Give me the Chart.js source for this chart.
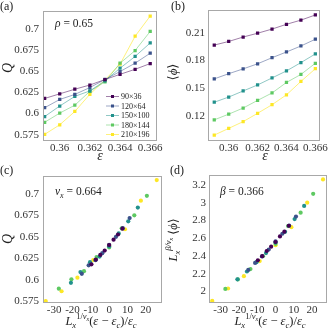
<!DOCTYPE html>
<html>
<head>
<meta charset="utf-8">
<script src="https://cdn.jsdelivr.net/npm/chart.js@4/dist/chart.umd.min.js"></script>
<style>
    html, body { margin: 0; padding: 0; background: #fff; }
    #figura { position: relative; width: 330px; height: 329px; }
    .painel { position: absolute; }
</style>
</head>
<body>
<div id="figura">
    <div class="painel" style="left:0;top:0"><canvas id="grafico_a" width="165" height="165"></canvas></div>
    <div class="painel" style="left:165px;top:0"><canvas id="grafico_b" width="165" height="165"></canvas></div>
    <div class="painel" style="left:0;top:165px"><canvas id="grafico_c" width="165" height="164"></canvas></div>
    <div class="painel" style="left:165px;top:165px"><canvas id="grafico_d" width="165" height="164"></canvas></div>
</div>
<script>
/* dados */
const eps = [0.359, 0.360, 0.361, 0.362, 0.363, 0.364, 0.365, 0.366];
const tamanhos = ['90×36', '120×64', '150×100', '180×144', '210×196'];

// (a) Q x eps
const q90  = [0.618, 0.6235, 0.629, 0.634, 0.6405, 0.6467, 0.6527, 0.6595];
const q120 = [0.607, 0.6168, 0.6228, 0.631, 0.6406, 0.650, 0.660, 0.6718];
const q150 = [0.5965, 0.609, 0.6205, 0.627, 0.639, 0.654, 0.668, 0.684];
const q180 = [0.5897, 0.6006, 0.610, 0.6265, 0.6377, 0.6599, 0.675, 0.6977];
const q210 = [0.5753, 0.5867, 0.6025, 0.623, 0.640, 0.6588, 0.692, 0.716];

// (b) <phi> x eps
const phi90  = [0.1968, 0.2007, 0.2055, 0.2096, 0.2141, 0.2193, 0.2238, 0.2294];
const phi120 = [0.1602, 0.1658, 0.171, 0.1765, 0.1831, 0.1893, 0.1958, 0.2031];
const phi150 = [0.1349, 0.1405, 0.1471, 0.1536, 0.1612, 0.1688, 0.1778, 0.1872];
const phi180 = [0.1158, 0.122, 0.1286, 0.1369, 0.1449, 0.1563, 0.165, 0.1771];
const phi210 = [0.0993, 0.1066, 0.1139, 0.1229, 0.1322, 0.1429, 0.1574, 0.1712];

// (c) e (d) eixo x reescalado
const xr90  = [-9.67, -7.25, -4.83, -2.42, 0, 2.42, 4.83, 7.25];
const xr120 = [-14.91, -11.18, -7.45, -3.73, 0, 3.73, 7.45, 11.18];
const xr150 = [-20.86, -15.65, -10.43, -5.22, 0, 5.22, 10.43, 15.65];
const xr180 = [-27.46, -20.59, -13.73, -6.86, 0, 6.86, 13.73, 20.59];
const xr210 = [-34.63, -25.97, -17.32, -8.66, 0, 8.66, 17.32, 25.97];

// (d) L^(beta/nu) <phi>
const phir90  = [2.351, 2.397, 2.455, 2.504, 2.557, 2.620, 2.673, 2.740];
const phir120 = [2.242, 2.321, 2.394, 2.471, 2.563, 2.650, 2.741, 2.843];
const phir150 = [2.136, 2.224, 2.329, 2.432, 2.552, 2.672, 2.815, 2.964];
const phir180 = [2.027, 2.135, 2.251, 2.396, 2.536, 2.736, 2.888, 3.100];
const phir210 = [1.893, 2.032, 2.171, 2.342, 2.520, 2.724, 3.000, 3.263];

const ticks_eps = [0.36, 0.362, 0.364, 0.366];
const ticks_q = [0.575, 0.6, 0.625, 0.65, 0.675, 0.7];
const ticks_phi = [0.12, 0.15, 0.18, 0.21];
const ticks_xr = [-30, -20, -10, 0, 10, 20];
const ticks_phir = [2, 2.2, 2.4, 2.6, 2.8, 3, 3.2];

const cores = ['#440154', '#3b528b', '#21918c', '#5ec962', '#fde725'];
const cores_linha = ['rgba(68,1,84,0.5)', 'rgba(59,82,139,0.5)', 'rgba(33,145,140,0.5)', 'rgba(94,201,98,0.5)', 'rgba(253,231,37,0.6)'];

const FONTE = '"Liberation Serif", "DejaVu Serif", serif';

function fonte(tam, italico) {
    return (italico ? 'italic ' : '') + tam + 'px ' + FONTE;
}

// escreve texto com partes de tamanhos/estilos diferentes, centrado em x
function textoRico(ctx, partes, x, y, rot, alinhar) {
    ctx.save();
    ctx.translate(x, y);
    if (rot) ctx.rotate(rot);
    ctx.fillStyle = '#222';
    ctx.textBaseline = 'alphabetic';
    ctx.textAlign = 'left';
    let largura = 0;
    partes.forEach(p => { ctx.font = fonte(p[1], p[2]); largura += ctx.measureText(p[0]).width; });
    let cx = alinhar == 'left' ? 0 : -largura / 2;
    partes.forEach(p => {
        ctx.font = fonte(p[1], p[2]);
        ctx.fillText(p[0], cx, p[3] || 0);
        cx += ctx.measureText(p[0]).width;
    });
    ctx.restore();
}

function montarDatasets(xs, series, comLinha) {
    return series.map((serie, k) => ({
        label: tamanhos[k],
        data: serie.map((v, i) => ({ x: Array.isArray(xs[0]) ? xs[k][i] : xs[i], y: v })),
        borderColor: cores_linha[k],
        backgroundColor: cores[k],
        borderWidth: 1,
        showLine: comLinha,
        pointStyle: comLinha ? 'rect' : 'circle',
        pointRadius: comLinha ? 2.3 : 2.1,
        pointBorderWidth: 0,
        pointBackgroundColor: cores[k]
    }));
}

function eixo(min, max, valores, larg, padding, ehX) {
    return {
        type: 'linear',
        min: min,
        max: max,
        grid: { display: false, drawTicks: false },
        border: { display: false },
        afterBuildTicks: (a) => { a.ticks = valores.map(v => ({ value: v })); },
        afterFit: (a) => { if (ehX) a.height = larg; else a.width = larg; },
        ticks: {
            padding: padding,
            color: '#333',
            maxRotation: 0,
            autoSkip: false,
            font: { family: FONTE, size: 11 },
            callback: (v) => String(+(+v).toFixed(4))
        }
    };
}

function criarGrafico(id, datasets, cfg) {
    const moldura = {
        id: 'moldura_' + id,
        afterDraw(chart) {
            const ctx = chart.ctx;
            const a = chart.chartArea;
            ctx.save();
            ctx.strokeStyle = '#a8a8a8';
            ctx.lineWidth = 1;
            ctx.strokeRect(Math.round(a.left) + 0.5, Math.round(a.top) + 0.5,
                Math.round(a.right - a.left), Math.round(a.bottom - a.top));
            ctx.restore();
            cfg.textos(ctx, chart);
        }
    };
    return new Chart(document.getElementById(id), {
        type: 'scatter',
        data: { datasets: datasets },
        options: {
            responsive: false,
            animation: false,
            layout: { padding: { left: 0, top: cfg.top, right: cfg.right, bottom: 0 } },
            scales: {
                x: eixo(cfg.xmin, cfg.xmax, cfg.xticks, cfg.xh, 2, true),
                y: eixo(cfg.ymin, cfg.ymax, cfg.yticks, cfg.yw, cfg.ypad, false)
            },
            plugins: { legend: { display: false }, tooltip: { enabled: false } }
        },
        plugins: [moldura]
    });
}

const titulo_x_reescalado = [['L', 12.5, true], ['x', 8.5, true, 3], ['1/', 8.5, false, -6], ['ν', 8.5, true, -6], ['x', 6, true, -4],
    ['(', 12.5, false], ['ε', 12.5, true], [' − ', 12.5, false], ['ε', 12.5, true], ['c', 8.5, true, 3], [')/', 12.5, false], ['ε', 12.5, true], ['c', 8.5, true, 3]];

/* painel (a) */
const grafico_a = criarGrafico('grafico_a', montarDatasets(eps, [q90, q120, q150, q180, q210], true), {
    top: 3, right: 8, xh: 25, yw: 43, ypad: 4,
    xmin: 0.35889, xmax: 0.3664, ymin: 0.5686, ymax: 0.7225,
    xticks: ticks_eps, yticks: ticks_q,
    textos(ctx, chart) {
        textoRico(ctx, [['(a)', 12, false]], 0, 10, 0, 'left');
        textoRico(ctx, [['ρ', 11.5, true], [' = 0.65', 11.5, false]], 55, 27, 0, 'left');
        textoRico(ctx, [['ε', 14, true]], 100, 160);
        textoRico(ctx, [['Q', 14, true]], 12, 68, -Math.PI / 2);
        // legenda
        const ys = [96, 105.5, 115, 124.5, 134];
        tamanhos.forEach((t, k) => {
            ctx.save();
            ctx.strokeStyle = cores_linha[k];
            ctx.lineWidth = 1;
            ctx.beginPath();
            ctx.moveTo(106, ys[k] + 0.5);
            ctx.lineTo(119, ys[k] + 0.5);
            ctx.stroke();
            ctx.fillStyle = cores[k];
            ctx.fillRect(111, ys[k] - 1, 3, 3);
            ctx.restore();
            textoRico(ctx, [[t, 8, false]], 121, ys[k] + 3, 0, 'left');
        });
    }
});

/* painel (b) */
const grafico_b = criarGrafico('grafico_b', montarDatasets(eps, [phi90, phi120, phi150, phi180, phi210], true), {
    top: 4, right: 9, xh: 25, yw: 43, ypad: 3,
    xmin: 0.358566, xmax: 0.366238, ymin: 0.094, ymax: 0.2352,
    xticks: ticks_eps, yticks: ticks_phi,
    textos(ctx, chart) {
        textoRico(ctx, [['(b)', 12, false]], 6, 10, 0, 'left');
        textoRico(ctx, [['ε', 14, true]], 100, 160);
        textoRico(ctx, [['⟨', 13, false], ['ϕ', 13, true], ['⟩', 13, false]], 12, 72, -Math.PI / 2);
    }
});

/* painel (c) */
const grafico_c = criarGrafico('grafico_c', montarDatasets([xr90, xr120, xr150, xr180, xr210], [q90, q120, q150, q180, q210], false), {
    top: 5, right: 4, xh: 27, yw: 43, ypad: 4,
    xmin: -36.1, xmax: 28.3, ymin: 0.5742, ymax: 0.7212,
    xticks: ticks_xr, yticks: ticks_q,
    textos(ctx, chart) {
        textoRico(ctx, [['(c)', 12, false]], 0, 9, 0, 'left');
        textoRico(ctx, [['ν', 11.5, true], ['x', 8, true, 3], [' = 0.664', 11.5, false]], 55, 30, 0, 'left');
        textoRico(ctx, titulo_x_reescalado, 101, 160);
        textoRico(ctx, [['Q', 14, true]], 12, 74, -Math.PI / 2);
    }
});

/* painel (d) */
const grafico_d = criarGrafico('grafico_d', montarDatasets([xr90, xr120, xr150, xr180, xr210], [phir90, phir120, phir150, phir180, phir210], false), {
    top: 5, right: 1, xh: 27, yw: 44, ypad: 3,
    xmin: -36.4, xmax: 27.6, ymin: 1.88, ymax: 3.317,
    xticks: ticks_xr, yticks: ticks_phir,
    textos(ctx, chart) {
        textoRico(ctx, [['(d)', 12, false]], 5, 9, 0, 'left');
        textoRico(ctx, [['β', 11.5, true], [' = 0.366', 11.5, false]], 55, 30, 0, 'left');
        textoRico(ctx, titulo_x_reescalado, 105, 160);
        textoRico(ctx, [['L', 12.5, true], ['x', 8.5, true, 3], ['β/', 8.5, true, -6], ['ν', 8.5, true, -6], ['x', 6, true, -4],
            [' ⟨', 12.5, false], ['ϕ', 12.5, true], ['⟩', 12.5, false]], 12, 75, -Math.PI / 2);
    }
});
</script>
</body>
</html>
